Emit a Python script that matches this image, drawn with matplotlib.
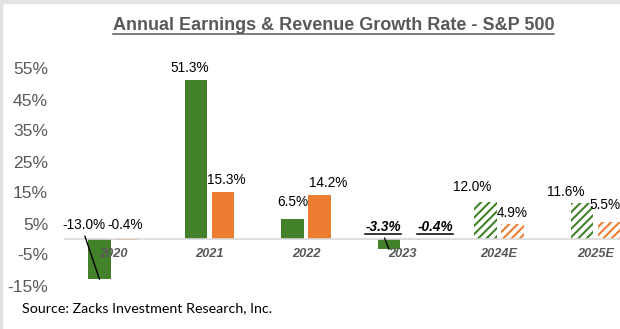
import matplotlib
matplotlib.use("Agg")
import matplotlib.pyplot as plt
from matplotlib.lines import Line2D
from matplotlib.patches import Rectangle
from matplotlib.text import Text
from matplotlib.transforms import IdentityTransform, offset_copy

# donnees
annees = ['2020', '2021', '2022', '2023', '2024E', '2025E']
croissance_benef = [-13.0, 51.3, 6.5, -3.3, 12.0, 11.6]
croissance_ca = [-0.4, 15.3, 14.2, -0.4, 4.9, 5.5]
estime_benef = [False, False, False, False, True, True]
estime_ca = [False, False, False, True, True, True]
graduations = [-15, -5, 5, 15, 25, 35, 45, 55]

# decalage des etiquettes (pixels) par rapport au haut de la barre
decal_benef = [(-16, 14), (-6, 12), (0, 17), (-6, 12), (-13, 15), (-16, 11)]
decal_ca = [(-1, 14), (3, 12), (9, 12), (19, 12), (0, 11), (-4, 17)]
souligne_benef = [False, False, False, True, False, False]
souligne_ca = [False, False, False, True, False, False]

VERT = '#43822B'
ORANGE = '#ED7D31'
GRIS = '#595959'

plt.rcParams['font.family'] = ['Liberation Sans', 'DejaVu Sans']
plt.rcParams['hatch.linewidth'] = 1.5

fig = plt.figure(figsize=(6.2, 3.29), dpi=100)
fig.patch.set_facecolor('white')
ax = fig.add_axes([64.75 / 620, 28 / 329, 579 / 620, 248 / 329])
ax.set_xlim(-0.5, 5.5)
ax.set_ylim(-20, 60)

larg = 0.23
dec = 0.14
x = list(range(len(annees)))

for i in x:
    if estime_benef[i]:
        ax.bar(i - dec, croissance_benef[i], larg, color='white', edgecolor=VERT, hatch='////', linewidth=0)
    else:
        ax.bar(i - dec, croissance_benef[i], larg, color=VERT, linewidth=0)
    if estime_ca[i]:
        ax.bar(i + dec, croissance_ca[i], larg, color='white', edgecolor=ORANGE, hatch='////', linewidth=0)
    else:
        ax.bar(i + dec, croissance_ca[i], larg, color=ORANGE, linewidth=0)

for s in ['top', 'right', 'left']:
    ax.spines[s].set_visible(False)
ax.spines['bottom'].set_position(('data', 0))
ax.spines['bottom'].set_color('#d9d9d9')
ax.spines['bottom'].set_linewidth(1.2)

ax.set_xticks(x)
ax.set_xticklabels(annees, fontsize=9.2, fontweight='bold', fontstyle='italic', color=GRIS)
ax.tick_params(axis='x', length=0, pad=6.5)
ax.set_yticks(graduations)
ax.set_yticklabels([f'{g}%' for g in graduations], fontsize=12.6, color=GRIS)
ax.tick_params(axis='y', length=0, pad=12)
ax.patch.set_visible(False)

a_souligner = []


def etiquette(xc, val, d, souligne, fleche):
    haut = max(val, 0)
    props = None
    if fleche:
        props = dict(arrowstyle='-', color='black', lw=1, shrinkA=1, shrinkB=0, relpos=(0.5, 0))
    style = dict(fontweight='bold', fontstyle='italic') if souligne else {}
    coords = offset_copy(ax.transData, fig=fig, x=d[0], y=d[1], units='dots')
    t = ax.annotate(f'{val:.1f}%', xy=(xc, val if fleche else haut), xycoords='data',
                    xytext=(xc, haut), textcoords=coords, fontsize=9.8, ha='center', va='center',
                    color='black', zorder=5, arrowprops=props, **style)
    if souligne:
        a_souligner.append((t, 'black'))
    return t


for i in x:
    etiquette(i - dec, croissance_benef[i], decal_benef[i], souligne_benef[i], croissance_benef[i] < -1)
    etiquette(i + dec, croissance_ca[i], decal_ca[i], souligne_ca[i], False)

titre = fig.text(333.5 / 620, 1 - 26 / 329, 'Annual Earnings & Revenue Growth Rate - S&P 500',
                 ha='center', va='center', fontsize=13.0, fontweight='bold', color=GRIS)
a_souligner.append((titre, GRIS))

fig.text(22 / 620, 1 - 308 / 329, 'Source: Zacks Investment Research, Inc.',
         ha='left', va='center', fontsize=10.3, family=['Lato', 'DejaVu Sans'], color='black')

# bordure grise
fig.add_artist(Rectangle((0, 1 - 3 / 329), 1, 3 / 329, transform=fig.transFigure, color='#e3e3e3', zorder=10))
fig.add_artist(Rectangle((0, 0), 2 / 620, 1, transform=fig.transFigure, color='#e3e3e3', zorder=10))

fig.canvas.draw()
rend = fig.canvas.get_renderer()
for t, coul in a_souligner:
    # etendue du texte seul (sans la ligne de rappel)
    bb = Text.get_window_extent(t, rend)
    fig.add_artist(Line2D([bb.x0, bb.x1], [bb.y0 + 0.5, bb.y0 + 0.5], transform=IdentityTransform(),
                          color=coul, lw=1.1))

fig.savefig('out.png', dpi=100)
